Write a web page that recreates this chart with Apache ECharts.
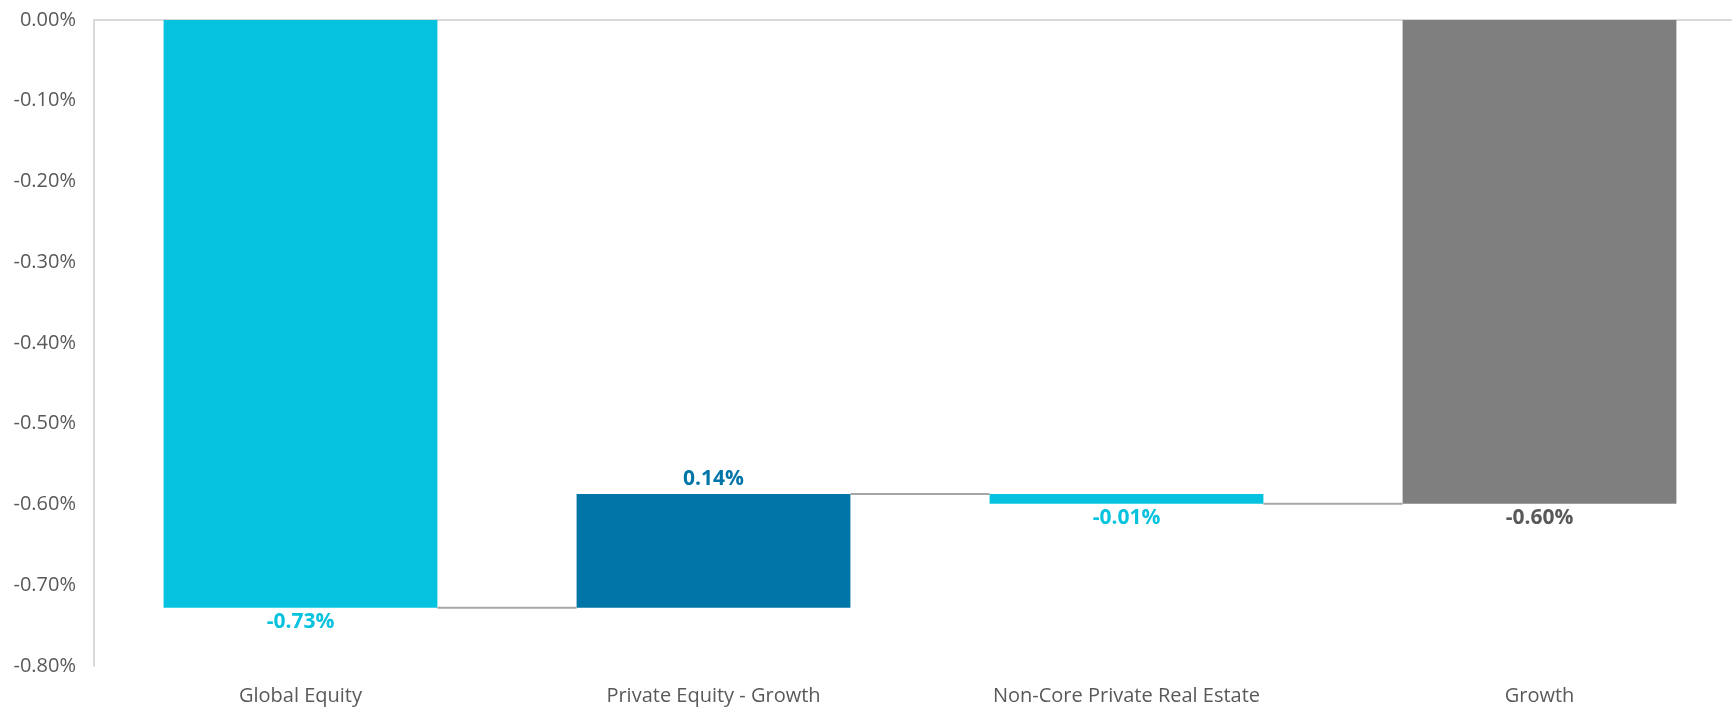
<!DOCTYPE html>
<html>
<head>
<meta charset="utf-8">
<script src="https://cdn.jsdelivr.net/npm/echarts@6/dist/echarts.min.js"></script>
<style>
html,body{margin:0;padding:0;background:#fff;}
#chart{width:1732px;height:708px;}
</style>
</head>
<body>
<div id="chart"></div>
<script>
// ---- data ----
const categories = ['Global Equity', 'Private Equity - Growth', 'Non-Core Private Real Estate', 'Growth'];
const changes = [-0.728, 0.141, -0.012, -0.599];
const isTotal = [false, false, false, true];
const barColors = ['#05C3DE', '#0076A8', '#05C3DE', '#7F7F7F'];
const labelColors = ['#05C3DE', '#0076A8', '#05C3DE', '#595959'];
const yMin = -0.8, yMax = 0, yStep = 0.1;

// ---- waterfall ranges ----
const starts = [], ends = [];
let running = 0;
changes.forEach((v, i) => {
  if (isTotal[i]) { starts.push(0); ends.push(v); running = v; }
  else { starts.push(running); ends.push(running + v); running += v; }
});
const seriesData = categories.map((c, i) => [i, starts[i], ends[i], changes[i]]);

const FONT = '"Open Sans", "Noto Sans", sans-serif';
const barRatio = 0.663;

const chart = echarts.init(document.getElementById('chart'));
chart.setOption({
  animation: false,
  grid: { left: 94, top: 20, width: 1652, height: 646, containLabel: false, outerBoundsMode: 'none' },
  xAxis: {
    type: 'category',
    data: categories,
    axisLine: { show: true, lineStyle: { color: '#D9D9D9', width: 2 } },
    axisTick: { show: false },
    axisLabel: { color: '#595959', fontSize: 20, fontFamily: FONT, margin: 20 },
    splitLine: { show: false }
  },
  yAxis: {
    type: 'value',
    min: yMin, max: yMax, interval: yStep,
    axisLine: { show: true, lineStyle: { color: '#D9D9D9', width: 2 } },
    axisTick: { show: false },
    splitLine: { show: false },
    axisLabel: {
      color: '#595959', fontSize: 20, fontFamily: FONT, margin: 18,
      formatter: v => v.toFixed(2) + '%'
    }
  },
  series: [{
    type: 'custom',
    data: seriesData,
    encode: { x: 0, y: [1, 2] },
    renderItem: function (params, api) {
      const idx = api.value(0);
      const s = api.value(1), e = api.value(2), chg = api.value(3);
      const pS = api.coord([idx, s]);
      const pE = api.coord([idx, e]);
      const band = api.size([1, 0])[0];
      const w = band * barRatio;
      const x = pS[0] - w / 2;
      const yTop = Math.min(pS[1], pE[1]);
      const h = Math.abs(pS[1] - pE[1]);
      const children = [{
        type: 'rect',
        shape: { x: x, y: yTop, width: w, height: h },
        style: { fill: barColors[idx] }
      }];
      if (idx > 0) {
        const prevEnd = ends[idx - 1];
        const py = api.coord([idx, prevEnd])[1];
        children.push({
          type: 'line',
          shape: { x1: pS[0] - band + w / 2, y1: py, x2: x, y2: py },
          style: { stroke: '#A6A6A6', lineWidth: 2 }
        });
      }
      const up = chg > 0;
      children.push({
        type: 'text',
        style: {
          text: chg.toFixed(2) + '%',
          x: pS[0],
          y: up ? yTop - 4 : yTop + h + 4,
          align: 'center',
          verticalAlign: up ? 'bottom' : 'top',
          fill: labelColors[idx],
          font: 'bold 21px ' + FONT
        }
      });
      return { type: 'group', children: children };
    }
  }]
});
</script>
</body>
</html>
